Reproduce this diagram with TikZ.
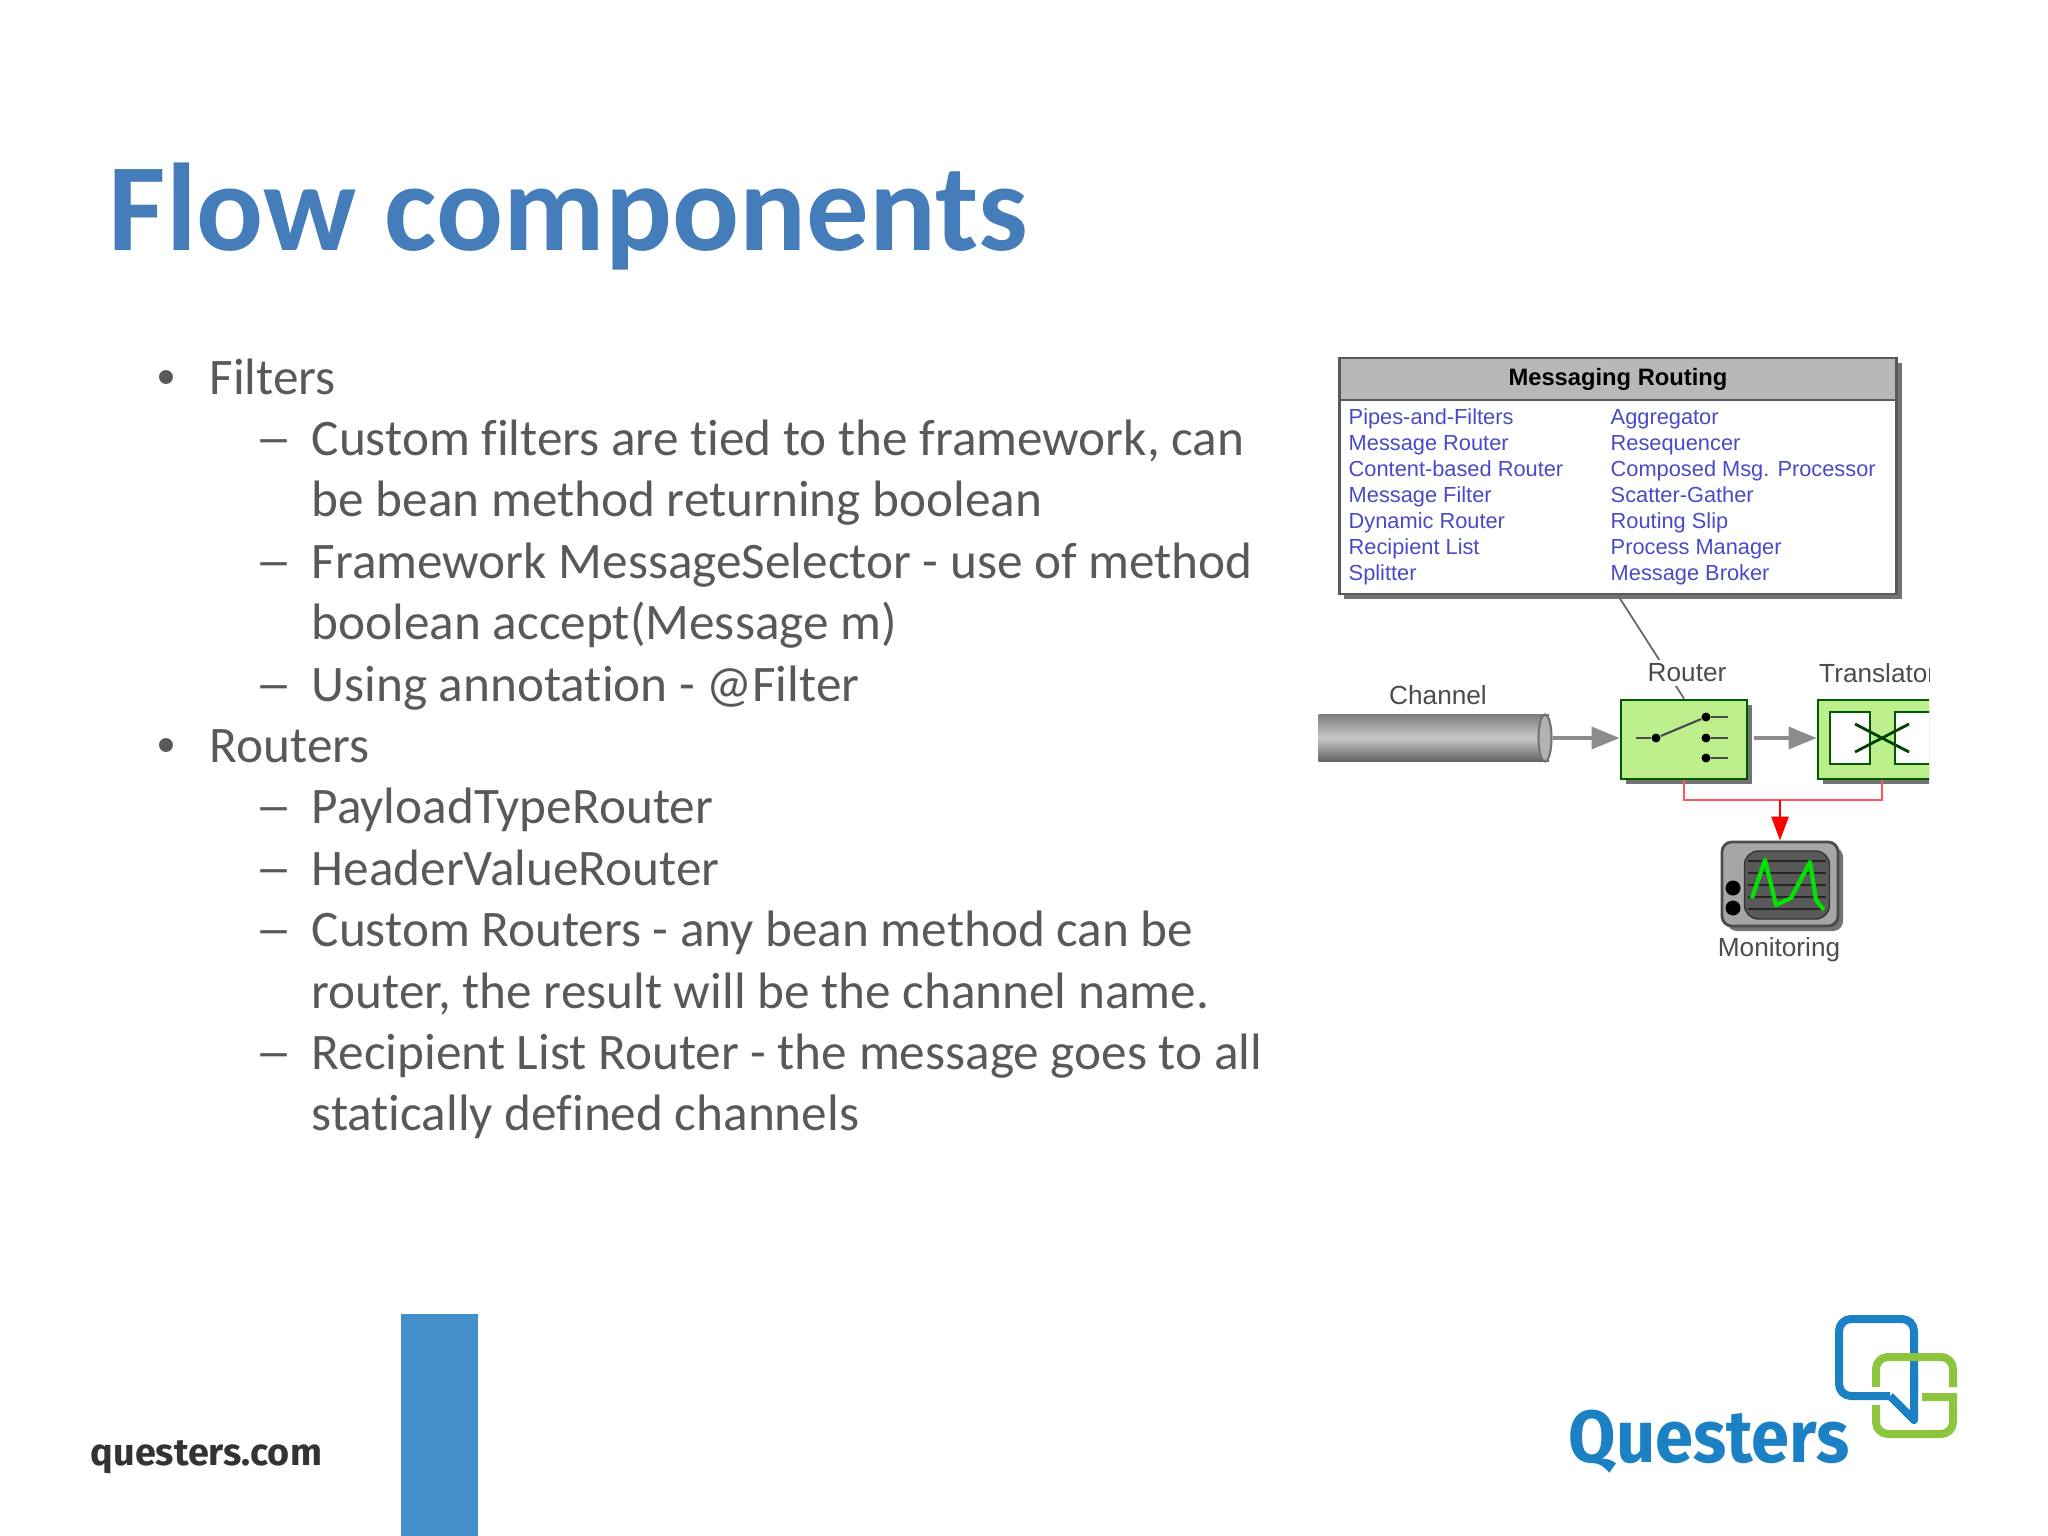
\documentclass[tikz,border=0pt]{standalone}
\usepackage{fontspec}
\usepackage{graphicx}
\setmainfont[Ligatures=NoCommon]{Carlito}
\newfontfamily\arialfont{Liberation Sans}
\newfontfamily\logofont[Ligatures=NoCommon]{Fira Sans}
\usetikzlibrary{arrows.meta}
\usetikzlibrary{positioning}
\usetikzlibrary{shadows}
\usetikzlibrary{shapes.geometric}
\definecolor{titleblue}{HTML}{457DBA}
\definecolor{bodygray}{HTML}{595959}
\definecolor{barblue}{HTML}{428FC9}
\definecolor{logoblue}{HTML}{1B80C4}
\definecolor{logogreen}{HTML}{8CC63F}
\definecolor{linkblue}{HTML}{4A4AC8}
\definecolor{boxgreen}{HTML}{BDF08C}
\tikzset{
    bodyline/.style={anchor=base west, inner sep=0pt, text=bodygray, font=\fontsize{14.57}{17}\selectfont},
    linkline/.style={anchor=base west, inner sep=0pt, text=linkblue, font=\arialfont\fontsize{6.2}{8}\selectfont},
    partlabel/.style={inner sep=1pt, text=black!70, font=\arialfont\fontsize{7.45}{8}\selectfont},
    castshadow/.style={drop shadow={shadow xshift=0.05cm, shadow yshift=-0.05cm, fill=black!55, opacity=1}},
    greenbox/.style={draw=black!65!green, fill=boxgreen, line width=0.8pt, inner sep=0pt, castshadow},
    flowarrow/.style={draw=black!45, line width=1pt, -{Triangle[length=2.8mm, width=2.2mm, fill=black!45]}},
    swline/.style={draw=black!70, line width=0.6pt},
    swdot/.style={circle, fill=black, inner sep=0pt, minimum size=0.09cm},
}
\begin{document}
\begin{tikzpicture}[x=0.01cm, y=-0.01cm]
    \useasboundingbox (0,0) rectangle (2048,1536);
    \node[anchor=base west, inner sep=0pt, text=titleblue, font=\fontsize{35.5}{40}\selectfont\bfseries] (title) at (108,250.5) {Flow components};
    % Bullet text, one line per row
    \foreach \i/\t in {0/Filters, 6/Routers} {
        \node[bodyline] (mark\i) at (157,394+61.4*\i) {\arialfont •};
        \node[bodyline] (line\i) at (209,394+61.4*\i) {\t};
    }
    \foreach \i/\t in {1/{Custom filters are tied to the framework, can}, 3/Framework MessageSelector - use of method, 5/Using annotation - @Filter, 7/PayloadTypeRouter, 8/HeaderValueRouter, 9/Custom Routers - any bean method can be, 11/Recipient List Router - the message goes to all} {
        \node[bodyline] (mark\i) at (255,394+61.4*\i) {\scalebox{1.45}[1]{–}};
        \node[bodyline] (line\i) at (311,394+61.4*\i) {\t};
    }
    \foreach \i/\t in {2/be bean method returning boolean, 4/boolean accept(Message m), 10/{router, the result will be the channel name.}, 12/statically defined channels} {
        \node[bodyline] (line\i) at (311,394+61.4*\i) {\t};
    }
    % Routing table
    \node[draw=black!65, fill=white, line width=0.8pt, inner sep=0pt, minimum width=5.57cm, minimum height=2.36cm, castshadow] (routingbox) at (1618,476) {};
    \node[draw=black!65, fill=black!28, line width=0.8pt, inner sep=0pt, minimum width=5.57cm, minimum height=0.42cm, below=0pt of routingbox.north, font=\arialfont\fontsize{6.75}{8}\selectfont\bfseries] (routinghead) {Messaging Routing};
    \foreach \i/\a/\b in {0/Pipes-and-Filters/Aggregator, 1/Message Router/Resequencer, 2/Content-based Router/Composed Msg. Processor, 3/Message Filter/Scatter-Gather, 4/Dynamic Router/Routing Slip, 5/Recipient List/Process Manager, 6/Splitter/Message Broker} {
        \node[linkline] (lefttopic\i) at (1348,424+26.1*\i) {\a};
        \node[linkline] (righttopic\i) at (1610,424+26.1*\i) {\b};
    }
    % Flow, cut off at the right edge of the figure
    \begin{scope}
        \clip (1318,640) rectangle (1929,980);
        \node[anchor=west, inner sep=0pt, minimum width=2.3cm, minimum height=0.47cm, top color=black!50, bottom color=black!62, middle color=black!22] (channel) at (1318,738) {};
        \node[ellipse, draw=black!55, fill=black!30, inner sep=0pt, minimum width=0.13cm, minimum height=0.47cm, line width=0.6pt] (channelend) at (1545,738) {};
        \node[greenbox, minimum width=1.26cm, minimum height=0.79cm] (routerbox) at (1684,739.5) {};
        \node[greenbox, minimum width=1.28cm, minimum height=0.79cm] (translatorbox) at (1882,739.5) {};
        \node[draw=black!65!green, fill=white, inner sep=0pt, minimum width=0.40cm, minimum height=0.52cm] (leftpane) at (1850,738) {};
        \node[draw=black!65!green, fill=white, inner sep=0pt, minimum width=0.40cm, minimum height=0.52cm] (rightpane) at (1915,738) {};
        \node[partlabel, anchor=west] (translatorlabel) at (1815,673) {Translator};
        \coordinate (crossa) at (1855,724);
        \coordinate (crossb) at (1909,752);
        \coordinate (crossc) at (1855,752);
        \coordinate (crossd) at (1909,724);
        \draw[black!75!green, line width=0.8pt] (crossa) -- (crossb);
        \draw[black!75!green, line width=0.8pt] (crossc) -- (crossd);
        \draw[flowarrow] (channelend.east) -- (routerbox.west |- channelend);
        \draw[flowarrow] ([xshift=0.06cm]routerbox.east |- channelend) -- (translatorbox.west |- channelend);
    \end{scope}
    % Switch inside the router
    \node[swdot] (pivot) at (1656,738) {};
    \foreach \n/\y in {a/717, b/738, c/758} {
        \node[swdot] (pin\n) at (1706,\y) {};
        \coordinate (pinend\n) at (1728,\y);
        \draw[swline] (pin\n) -- (pinend\n);
    }
    \coordinate (pivotend) at (1636,738);
    \draw[swline] (pivotend) -- (pivot);
    \draw[swline] (pivot) -- (pina);
    % Labels and the link up to the table
    \draw[black!60, line width=0.5pt] (routingbox.south) -- (routerbox.north);
    \node[partlabel, fill=white] (routerlabel) at (1687,673) {Router};
    \node[partlabel] (channellabel) at (1438,695) {Channel};
    % Monitor
    \node[rounded corners=0.1cm, draw=black!70, fill=black!35, line width=0.8pt, inner sep=0pt, minimum width=1.16cm, minimum height=0.84cm, castshadow] (monitorbox) at (1780,884) {};
    \node[rounded corners=0.14cm, fill=black!65, draw=black!80, inner sep=0pt, minimum width=0.85cm, minimum height=0.68cm] (screen) at (1787,885) {};
    \foreach \y in {861,873,885,897,909} {
        \draw[black!85, line width=0.4pt] (1748,\y) -- (1826,\y);
    }
    \draw[green!90!black, line width=1.2pt, line join=round] (1752,898) -- (1765,860) -- (1776,905) -- (1791,898) -- (1810,862) -- (1816,900) -- (1824,910);
    \node[swdot, minimum size=0.15cm] (knoba) at (1733,888) {};
    \node[swdot, minimum size=0.15cm] (knobb) at (1733,908) {};
    \node[partlabel] (monitorlabel) at (1779,950) {Monitoring};
    % Red wires
    \coordinate (redjoint) at (1780,800);
    \draw[red!65!white, line width=0.8pt] (routerbox.south) |- (redjoint) -| (translatorbox.south);
    \draw[red, line width=0.8pt, -{Triangle[length=2.4mm, width=1.7mm, fill=red]}] (redjoint) -- (monitorbox.north);
    % Footer
    \fill[barblue] (401,1314) rectangle (478,1536);
    \node[anchor=base west, inner sep=0pt, text=black!80, font=\logofont\fontsize{10.75}{12}\selectfont\bfseries] (siteurl) at (90,1465) {questers.com};
    \node[anchor=base west, inner sep=0pt, text=logoblue, font=\logofont\fontsize{21}{24}\selectfont\bfseries] (logotext) at (1568,1462) {\scalebox{0.93}[1]{Questers}};
    % Logo bubbles
    \draw[logoblue, line width=0.08cm, rounded corners=0.12cm, line join=round] (1914,1395) -- (1914,1319) -- (1839,1319) -- (1839,1396) -- (1890,1396);
    \draw[logoblue, line width=0.08cm, line join=round] (1914,1372) -- (1914,1420) -- (1890,1396);
    \draw[logogreen, line width=0.08cm, rounded corners=0.12cm] (1876,1387) -- (1876,1357) -- (1953,1357) -- (1953,1387);
    \draw[logogreen, line width=0.08cm] (1922,1397) -- (1953,1397) [rounded corners=0.12cm] -- (1953,1434) -- (1876,1434) -- (1876,1405);
\end{tikzpicture}
\end{document}
